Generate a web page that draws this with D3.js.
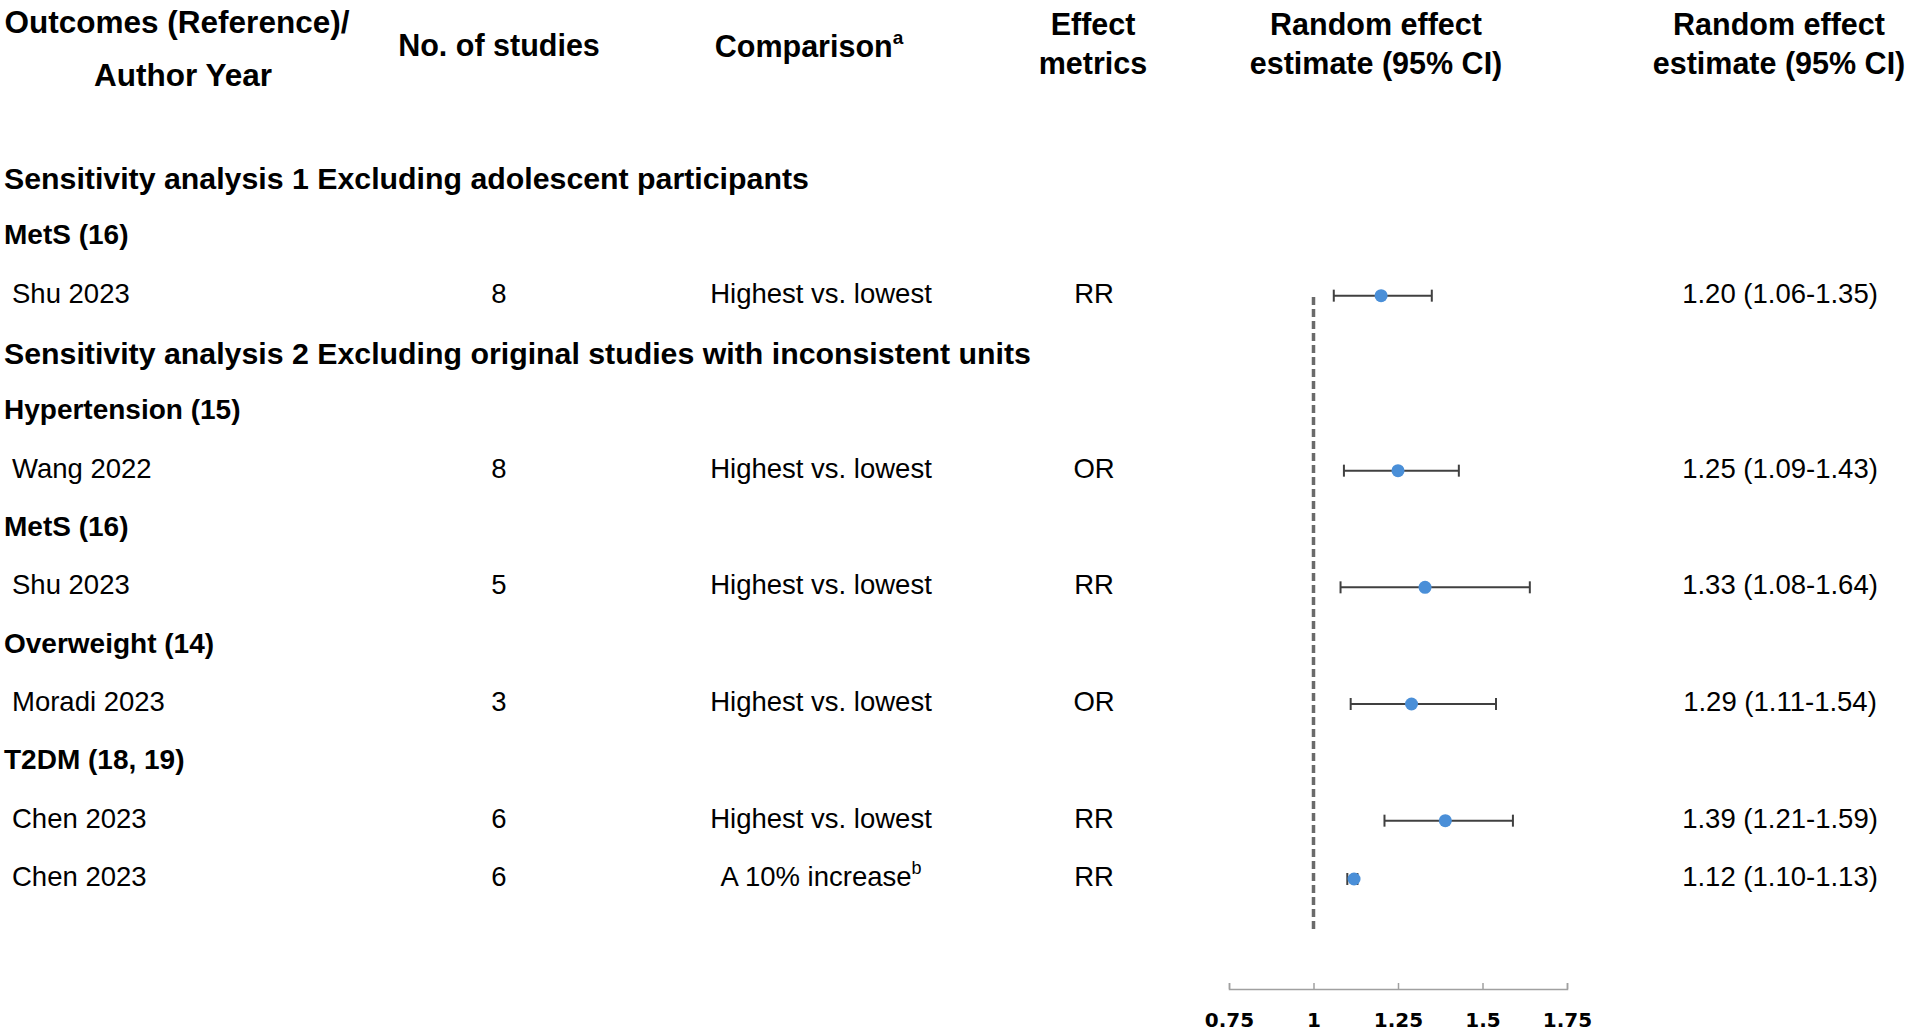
<!DOCTYPE html>
<html lang="en">
<head>
<meta charset="UTF-8">
<title>Sensitivity analysis forest plot</title>
<style>
  body { margin: 0; background: #fff; }
  svg { display: block; }
  text { font-family: "Liberation Sans", Arial, sans-serif; fill: #000; }
</style>
</head>
<body>
<script src="https://cdnjs.cloudflare.com/ajax/libs/d3/7.8.5/d3.min.js"></script>
<div id="chart"></div>
<script>
// rows of the table, top to bottom
const rowKinds = ["section", "group", "study", "section", "group", "study", "group", "study", "group", "study", "group", "study", "study"]
const rowLabels = [
    "Sensitivity analysis 1 Excluding adolescent participants",
    "MetS (16)",
    "Shu 2023",
    "Sensitivity analysis 2 Excluding original studies with inconsistent units",
    "Hypertension (15)",
    "Wang 2022",
    "MetS (16)",
    "Shu 2023",
    "Overweight (14)",
    "Moradi 2023",
    "T2DM (18, 19)",
    "Chen 2023",
    "Chen 2023"
]
const nStudies    = [null, null, 8, null, null, 8, null, 5, null, 3, null, 6, 6]
const comparisons = [null, null, "Highest vs. lowest", null, null, "Highest vs. lowest", null, "Highest vs. lowest", null, "Highest vs. lowest", null, "Highest vs. lowest", "A 10% increase"]
const compSup     = [null, null, null, null, null, null, null, null, null, null, null, null, "b"]
const metrics     = [null, null, "RR", null, null, "OR", null, "RR", null, "OR", null, "RR", "RR"]
const estimates   = [null, null, 1.20, null, null, 1.25, null, 1.33, null, 1.29, null, 1.39, 1.12]
const lowerCI     = [null, null, 1.06, null, null, 1.09, null, 1.08, null, 1.11, null, 1.21, 1.10]
const upperCI     = [null, null, 1.35, null, null, 1.43, null, 1.64, null, 1.54, null, 1.59, 1.13]
const axisTicks   = [0.75, 1, 1.25, 1.5, 1.75]

const WIDTH = 1907
const HEIGHT = 1031

const svg = d3.select("#chart")
    .append("svg")
    .attr("width", WIDTH)
    .attr("height", HEIGHT)

// column centres
const COL = { LABEL: 4, STUDY: 12, N: 499, COMP: 821, METRIC: 1094, VALUE: 1780 }

const x = d3.scaleLinear()
    .domain([0.75, 1.75])
    .range([1229, 1567])

const y = d3.scaleLinear()
    .domain([0, rowLabels.length - 1])
    .range([176, 876])

const fmt = d3.format(".2f")

// ---- column headers
const headers = [
    { lines: ["Outcomes (Reference)/", "Author Year"], cx: [177, 183], ys: [22, 75], size: 31.5 },
    { lines: ["No. of studies"], cx: [499], ys: [45], size: 30.5 },
    { lines: ["Comparison"], cx: [809], ys: [46], sup: "a", size: 30.5 },
    { lines: ["Effect", "metrics"], cx: [1093, 1093], ys: [24, 63], size: 30.5 },
    { lines: ["Random effect", "estimate (95% CI)"], cx: [1376, 1376], ys: [24, 63], size: 30.5 },
    { lines: ["Random effect", "estimate (95% CI)"], cx: [1779, 1779], ys: [24, 63], size: 30.5 }
]

headers.forEach(h => {
    h.lines.forEach((line, i) => {
        const t = svg.append("text")
            .attr("x", h.cx[i])
            .attr("y", h.ys[i] + 11)
            .attr("text-anchor", "middle")
            .style("font-size", h.size + "px")
            .style("font-weight", "bold")
        t.append("tspan").text(line)
        if (h.sup) {
            t.append("tspan")
                .attr("dy", -13)
                .style("font-size", "19px")
                .text(h.sup)
        }
    })
})

// ---- rows
const rows = svg.append("g")

rowLabels.forEach((label, i) => {
    const cy = y(i)
    const kind = rowKinds[i]
    if (kind !== "study") {
        rows.append("text")
            .attr("x", COL.LABEL)
            .attr("y", kind === "section" ? cy + 13 : cy + 10)
            .style("font-size", kind === "section" ? "30.3px" : "28px")
            .style("font-weight", "bold")
            .text(label)
        return
    }
    rows.append("text")
        .attr("x", COL.STUDY)
        .attr("y", cy + 10)
        .style("font-size", "27.5px")
        .text(label)

    rows.append("text")
        .attr("x", COL.N)
        .attr("y", cy + 10)
        .attr("text-anchor", "middle")
        .style("font-size", "27.5px")
        .text(nStudies[i])

    const ct = rows.append("text")
        .attr("x", COL.COMP)
        .attr("y", cy + 10)
        .attr("text-anchor", "middle")
        .style("font-size", "27.5px")
    ct.append("tspan").text(comparisons[i])
    if (compSup[i]) {
        ct.append("tspan")
            .attr("dy", -12)
            .style("font-size", "18px")
            .text(compSup[i])
    }

    rows.append("text")
        .attr("x", COL.METRIC)
        .attr("y", cy + 10)
        .attr("text-anchor", "middle")
        .style("font-size", "27.5px")
        .text(metrics[i])

    rows.append("text")
        .attr("x", COL.VALUE)
        .attr("y", cy + 10)
        .attr("text-anchor", "middle")
        .style("font-size", "27.5px")
        .text(`${fmt(estimates[i])} (${fmt(lowerCI[i])}-${fmt(upperCI[i])})`)
})

// ---- reference line at 1
svg.append("line")
    .attr("x1", x(1)).attr("x2", x(1))
    .attr("y1", 297).attr("y2", 933)
    .style("stroke", "#6a6a6a")
    .style("stroke-width", 3.5)
    .style("stroke-dasharray", "8,4")

// ---- error bars and points
const studyIdx = d3.range(rowLabels.length).filter(i => rowKinds[i] === "study")
const CAP = 6

const bars = svg.append("g")
studyIdx.forEach(i => {
    const cy = y(i) + 3
    const g = bars.append("g")
    g.append("line")
        .attr("x1", x(lowerCI[i])).attr("x2", x(upperCI[i]))
        .attr("y1", cy).attr("y2", cy)
    g.append("line")
        .attr("x1", x(lowerCI[i])).attr("x2", x(lowerCI[i]))
        .attr("y1", cy - CAP).attr("y2", cy + CAP)
    g.append("line")
        .attr("x1", x(upperCI[i])).attr("x2", x(upperCI[i]))
        .attr("y1", cy - CAP).attr("y2", cy + CAP)
    g.selectAll("line")
        .style("stroke", "#404040")
        .style("stroke-width", 2)
    g.append("circle")
        .attr("cx", x(estimates[i]))
        .attr("cy", cy)
        .attr("r", 6.5)
        .style("fill", "#4a8fd8")
})

// ---- x axis, ticks pointing up
const axis = d3.axisBottom(x)
    .tickValues(axisTicks)
    .tickFormat(d => d)
    .tickSizeInner(-6)
    .tickSizeOuter(-6)
    .tickPadding(24)

const ax = svg.append("g")
    .attr("transform", `translate(0, 989)`)
    .call(axis)
ax.select(".domain").style("stroke", "#a0a0a0").style("stroke-width", 1.5)
ax.selectAll(".tick line").style("stroke", "#a0a0a0").style("stroke-width", 1.5)
ax.selectAll(".tick text")
    .style("font-family", "'DejaVu Sans', sans-serif")
    .style("font-weight", "bold")
    .style("font-size", "20px")
    .style("fill", "#000")
</script>
</body>
</html>
